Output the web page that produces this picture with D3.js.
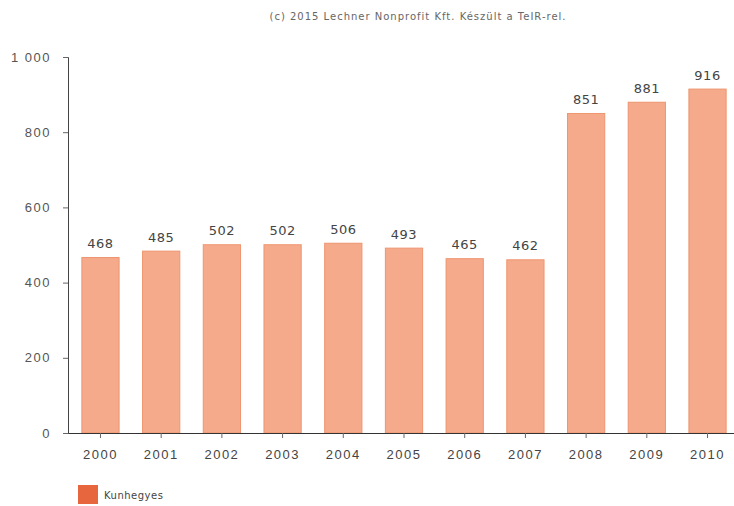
<!DOCTYPE html>
<html>
<head>
<meta charset="utf-8">
<script src="https://cdn.jsdelivr.net/npm/d3@7"></script>
<style>
  body { margin: 0; background: #fff; }
  svg { display: block; font-family: "DejaVu Sans", sans-serif; }
</style>
</head>
<body>
<div id="chart"></div>
<script>
const years = ['2000', '2001', '2002', '2003', '2004', '2005', '2006', '2007', '2008', '2009', '2010'];
const values = [468, 485, 502, 502, 506, 493, 465, 462, 851, 881, 916];
const yTicks = [0, 200, 400, 600, 800, 1000];
const seriesName = 'Kunhegyes';
const credit = '(c) 2015 Lechner Nonprofit Kft. Készült a TeIR-rel.';

const width = 734, height = 506;
const margin = {top: 57, right: -6, bottom: 73, left: 68};

const svg = d3.select('#chart').append('svg')
  .attr('width', width)
  .attr('height', height);

const x = d3.scaleBand()
  .domain(years)
  .range([margin.left, width - margin.right])
  .paddingInner(0.37)
  .paddingOuter(0.22);

const y = d3.scaleLinear()
  .domain([0, 1000])
  .range([height - margin.bottom, margin.top]);

// title / credit line
svg.append('text')
  .attr('x', 418)
  .attr('y', 20)
  .attr('text-anchor', 'middle')
  .attr('fill', '#666')
  .style('font-size', '10px')
  .style('letter-spacing', '1px')
  .text(credit);

// bars
svg.append('g').selectAll('rect')
  .data(values)
  .join('rect')
  .attr('x', (d, i) => x(years[i]) + 0.5)
  .attr('y', d => y(d) + 0.5)
  .attr('width', x.bandwidth() - 1)
  .attr('height', d => y(0) - y(d) - 0.5)
  .attr('fill', '#f5aa8b')
  .attr('stroke', '#ee9570')
  .attr('stroke-width', 1);

// value labels
svg.append('g').selectAll('text')
  .data(values)
  .join('text')
  .attr('x', (d, i) => x(years[i]) + x.bandwidth() / 2)
  .attr('y', d => y(d) - 9)
  .attr('text-anchor', 'middle')
  .attr('fill', '#444')
  .style('font-size', '13px')
  .style('letter-spacing', '0.5px')
  .text(d => d);

// y axis
const yAxis = svg.append('g')
  .attr('transform', 'translate(' + margin.left + ',0)')
  .call(d3.axisLeft(y)
    .tickValues(yTicks)
    .tickSize(5)
    .tickPadding(12)
    .tickFormat(d => d3.format(',')(d).replace(',', ' ')));
yAxis.select('.domain').attr('stroke', '#444');
yAxis.selectAll('.tick line').attr('stroke', '#666');
yAxis.selectAll('.tick text').attr('fill', '#555').style('font-size', '13px').style('letter-spacing', '1.5px');

// x axis
const xAxis = svg.append('g')
  .attr('transform', 'translate(0,' + y(0) + ')')
  .call(d3.axisBottom(x).tickSize(5).tickPadding(12).tickSizeOuter(0));
xAxis.select('.domain').attr('stroke', '#333');
xAxis.selectAll('.tick line').attr('stroke', '#666');
xAxis.selectAll('.tick text').attr('fill', '#444').style('font-size', '13px').style('letter-spacing', '1.5px');

// legend
svg.append('rect')
  .attr('x', 78)
  .attr('y', 485)
  .attr('width', 20)
  .attr('height', 19)
  .attr('fill', '#e8663e');
svg.append('text')
  .attr('x', 104)
  .attr('y', 499)
  .attr('fill', '#444')
  .style('font-size', '10px')
  .style('letter-spacing', '0.5px')
  .text(seriesName);
</script>
</body>
</html>
